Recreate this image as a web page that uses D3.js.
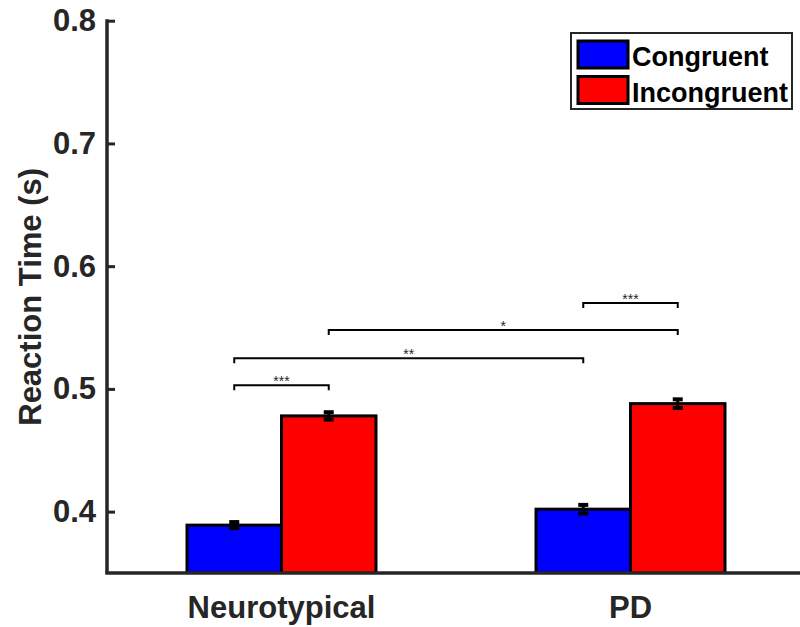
<!DOCTYPE html>
<html>
<head>
<meta charset="utf-8">
<script src="https://cdn.jsdelivr.net/npm/d3@7"></script>
<style>
  body { margin: 0; background: #fff; }
  svg { display: block; font-family: "Liberation Sans", Arial, Helvetica, sans-serif; }
</style>
</head>
<body>
<div class="canvas"></div>
<script>
// data
const groups = ['Neurotypical', 'PD'];
const conditions = ['Congruent', 'Incongruent'];
const congruentMeans = [0.389, 0.402];
const incongruentMeans = [0.478, 0.488];
const congruentSem = [0.0025, 0.0035];
const incongruentSem = [0.003, 0.0035];
const yTicks = [0.4, 0.5, 0.6, 0.7, 0.8];

// significance brackets: [group, condition] -> [group, condition], level (in data units), label
const brackets = [
  { from: [0, 0], to: [0, 1], level: 0.503, label: '***' },
  { from: [0, 0], to: [1, 0], level: 0.525, label: '**' },
  { from: [0, 1], to: [1, 1], level: 0.548, label: '*' },
  { from: [1, 0], to: [1, 1], level: 0.570, label: '***' }
];

//Graph setup
const dims = { width: 800, height: 627 };
const plot = { left: 107, right: 805, top: 20.7, bottom: 573 };
const axisColor = '#262626';
const color = d3.scaleOrdinal().domain(conditions).range(['#0000ff', '#ff0000']);

const svg = d3.select('.canvas')
              .append('svg')
              .attr('width', dims.width)
              .attr('height', dims.height);

// x scales: outer band per group, inner band per condition
const x0 = d3.scaleBand()
             .domain(groups)
             .range([plot.left, plot.right])
             .paddingInner(0.4585)
             .paddingOuter(0.4585 / 2);

const x1 = d3.scaleBand()
             .domain(conditions)
             .range([0, x0.bandwidth()]);

const y = d3.scaleLinear()
            .domain([0.35, 0.8])
            .range([plot.bottom, plot.top]);

// build rows for the bars
const rows = [];
groups.forEach((g, i) => {
  rows.push({ group: g, cond: 'Congruent', mean: congruentMeans[i], sem: congruentSem[i] });
  rows.push({ group: g, cond: 'Incongruent', mean: incongruentMeans[i], sem: incongruentSem[i] });
});

const cx = d => x0(d.group) + x1(d.cond) + x1.bandwidth() / 2;

// clip so bars stop at the x axis
svg.append('clipPath').attr('id', 'plotclip')
   .append('rect')
   .attr('x', plot.left).attr('y', 0)
   .attr('width', plot.right - plot.left).attr('height', plot.bottom);

const barG = svg.append('g').attr('clip-path', 'url(#plotclip)');

barG.selectAll('.bar')
    .data(rows)
    .enter()
    .append('rect')
    .attr('class', 'bar')
    .attr('x', d => x0(d.group) + x1(d.cond))
    .attr('y', d => y(d.mean))
    .attr('width', x1.bandwidth())
    .attr('height', d => y(0.35) - y(d.mean) + 10)
    .attr('fill', d => color(d.cond))
    .attr('stroke', '#000')
    .attr('stroke-width', 3);

// error bars
const err = svg.append('g');
rows.forEach(d => {
  const top = y(d.mean + d.sem), bot = y(d.mean - d.sem), c = cx(d);
  err.append('line')
     .attr('x1', c).attr('x2', c).attr('y1', top).attr('y2', bot)
     .attr('stroke', '#000').attr('stroke-width', 3);
  [top, bot].forEach(v => {
    err.append('line')
       .attr('x1', c - 5).attr('x2', c + 5).attr('y1', v).attr('y2', v)
       .attr('stroke', '#000').attr('stroke-width', 4);
  });
});

// significance brackets
const posOf = ([gi, ci]) => x0(groups[gi]) + x1(conditions[ci]) + x1.bandwidth() / 2;
const br = svg.append('g');
brackets.forEach(b => {
  const xa = posOf(b.from), xb = posOf(b.to), yl = y(b.level);
  br.append('path')
    .attr('d', `M${xa},${yl + 5}V${yl}H${xb}V${yl + 5}`)
    .attr('fill', 'none')
    .attr('stroke', '#000')
    .attr('stroke-width', 2);
  br.append('text')
    .attr('x', (xa + xb) / 2)
    .attr('y', yl + 1)
    .attr('text-anchor', 'middle')
    .attr('font-size', 14)
    .attr('fill', axisColor)
    .text(b.label);
});

// y axis
const yAxis = d3.axisLeft(y)
                .tickValues(yTicks)
                .tickFormat(d3.format('.1f'))
                .tickSizeInner(-8)
                .tickSizeOuter(0)
                .tickPadding(11);

const yG = svg.append('g')
              .attr('transform', `translate(${plot.left},0)`)
              .call(yAxis);
yG.select('.domain')
  .attr('d', `M0,${plot.top - 1.5}V${plot.bottom}`)
  .attr('stroke', axisColor).attr('stroke-width', 3.5);
yG.selectAll('.tick line').attr('stroke', axisColor).attr('stroke-width', 3);
yG.selectAll('.tick text')
  .attr('x', -11)
  .attr('fill', axisColor)
  .attr('font-size', 31)
  .attr('font-weight', 'bold');

// x axis
const xAxis = d3.axisBottom(x0).tickSize(0).tickPadding(23);
const xG = svg.append('g')
              .attr('transform', `translate(0,${plot.bottom})`)
              .call(xAxis);
xG.select('.domain')
  .attr('d', `M${plot.left - 1.75},0H${plot.right}`)
  .attr('stroke', axisColor).attr('stroke-width', 3.5);
xG.selectAll('.tick text')
  .attr('fill', axisColor)
  .attr('font-size', 31)
  .attr('font-weight', 'bold');

// y label
svg.append('text')
   .attr('transform', `translate(41,${(plot.top + plot.bottom) / 2}) rotate(-90)`)
   .attr('text-anchor', 'middle')
   .attr('fill', axisColor)
   .attr('font-size', 31)
   .attr('font-weight', 'bold')
   .text('Reaction Time (s)');

// legend
const legend = svg.append('g');
legend.append('rect')
      .attr('x', 571).attr('y', 33)
      .attr('width', 221).attr('height', 76)
      .attr('fill', '#fff')
      .attr('stroke', axisColor)
      .attr('stroke-width', 2);

const items = legend.selectAll('.item')
                    .data(conditions)
                    .enter()
                    .append('g')
                    .attr('class', 'item')
                    .attr('transform', (d, i) => `translate(0,${i * 35.5})`);

items.append('rect')
     .attr('x', 578).attr('y', 41)
     .attr('width', 50).attr('height', 27)
     .attr('fill', d => color(d))
     .attr('stroke', '#000')
     .attr('stroke-width', 3);

items.append('text')
     .attr('x', 632).attr('y', 66)
     .attr('font-size', 27)
     .attr('font-weight', 'bold')
     .attr('fill', '#000')
     .text(d => d);
</script>
</body>
</html>
